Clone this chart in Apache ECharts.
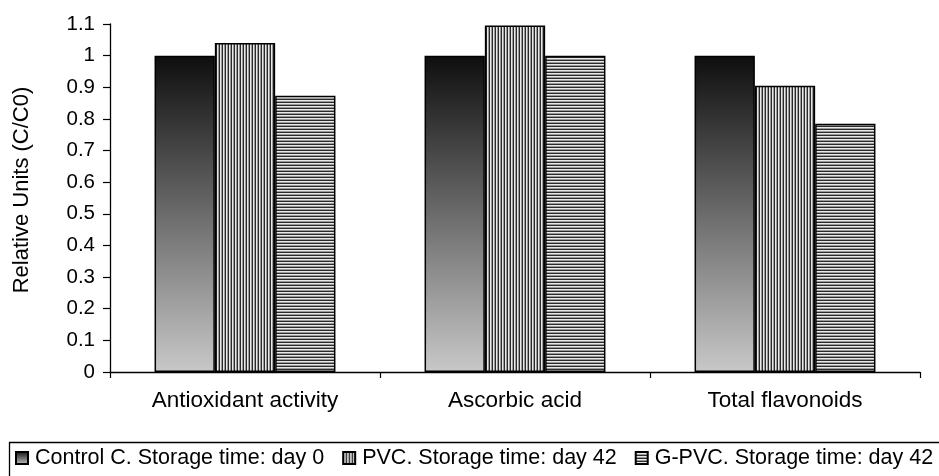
<!DOCTYPE html>
<html><head><meta charset="utf-8">
<script src="https://cdn.jsdelivr.net/npm/echarts@6/dist/echarts.min.js"></script>
<style>html,body{margin:0;padding:0;background:#fff}#c{width:939px;height:476px}</style>
</head><body><div id="c"></div>
<script>
const categories = ['Antioxidant activity', 'Ascorbic acid', 'Total flavonoids'];
const controlValues = [1.0, 1.0, 1.0];
const pvcValues = [1.04, 1.095, 0.905];
const gpvcValues = [0.873, 1.0, 0.785];
const seriesNames = ['Control C. Storage time: day 0', 'PVC. Storage time: day 42', 'G-PVC. Storage time: day 42'];
const yTicks = [0, 0.1, 0.2, 0.3, 0.4, 0.5, 0.6, 0.7, 0.8, 0.9, 1, 1.1];

function stripes(vertical) {
  const cols = ['#2a2a2a', '#e8e8e8', '#9a9a9a'];
  const c = document.createElement('canvas');
  const n = cols.length;
  c.width = vertical ? n : 4; c.height = vertical ? 4 : n;
  const ctx = c.getContext('2d');
  cols.forEach((col, i) => {
    ctx.fillStyle = col;
    if (vertical) ctx.fillRect(i, 0, 1, 4); else ctx.fillRect(0, i, 4, 1);
  });
  return { image: c, repeat: 'repeat' };
}
const gradient = new echarts.graphic.LinearGradient(0, 0, 0, 1, [
  { offset: 0, color: '#0e0e0e' }, { offset: 1, color: '#c8c8c8' }
]);
const fills = [gradient, stripes(true), stripes(false)];
const datas = [controlValues, pvcValues, gpvcValues];

const chart = echarts.init(document.getElementById('c'), null, { renderer: 'canvas' });
const font = 'Liberation Sans, Arial, sans-serif';
chart.setOption({
  animation: false,
  textStyle: { fontFamily: font },
  grid: { left: 110, right: 19, top: 24, bottom: 104 },
  xAxis: {
    type: 'category', data: categories,
    axisLine: { lineStyle: { color: '#000', width: 1.3 } },
    axisTick: { show: true, length: 6, lineStyle: { color: '#000', width: 1.2 } },
    axisLabel: { color: '#000', fontSize: 22.5, margin: 17, fontFamily: font }
  },
  yAxis: {
    type: 'value', min: 0, max: 1.1, interval: 0.1,
    name: 'Relative Units (C/C0)', nameLocation: 'middle', nameGap: 77, nameRotate: 90,
    nameTextStyle: { color: '#000', fontSize: 22, fontFamily: font, padding: [0, 0, 0, 16] },
    axisLine: { show: true, lineStyle: { color: '#000', width: 1.3 } },
    axisTick: { show: true, length: 7, lineStyle: { color: '#000', width: 1.2 } },
    splitLine: { show: false },
    axisLabel: { color: '#000', fontSize: 20.5, margin: 15, fontFamily: font,
      formatter: v => { const t = yTicks.find(x => Math.abs(x - v) < 1e-6); return t === undefined ? '' : String(t); } }
  },
  legend: {
    left: 10, top: 442, itemWidth: 12, itemHeight: 12, itemGap: 18, icon: 'rect',
    textStyle: { color: '#000', fontSize: 21.5, fontFamily: font, padding: [0, 0, 0, 2] },
    data: seriesNames
  },
  graphic: [{ type: 'rect', left: 7, top: 440, shape: { width: 940, height: 40 },
    style: { fill: 'none', stroke: '#000', lineWidth: 1.3 } }],
  series: seriesNames.map((n, i) => ({
    name: n, type: 'bar', data: datas[i],
    barGap: '0%', barCategoryGap: '33%',
    itemStyle: { color: fills[i], borderColor: '#000', borderWidth: 1.5 }
  }))
});
</script></body></html>
